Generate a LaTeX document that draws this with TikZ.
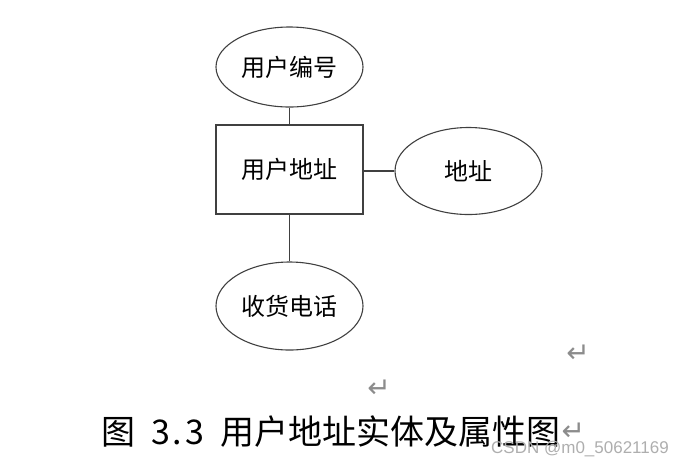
\documentclass[tikz,border=0pt]{standalone}
\usepackage{fontspec}
\setmainfont{Noto Sans CJK SC}
\newfontfamily\cjk{Noto Sans CJK SC}
\newfontfamily\symf{DejaVu Sans}
\newfontfamily\wmf{Liberation Sans}
\usetikzlibrary{shapes.geometric}
\definecolor{lc}{HTML}{404040}
\definecolor{rc}{HTML}{8C8C8C}
\newcommand{\hw}[1]{\makebox[17pt]{#1}}
\begin{document}
\begin{tikzpicture}[x=1pt,y=-1pt,
  attr/.style={ellipse,draw=lc,line width=1.1pt,minimum width=147pt,minimum height=#1,inner sep=0pt,font=\cjk\fontsize{24}{28}\selectfont},
  ent/.style={rectangle,draw=lc,line width=1.1pt,minimum width=147pt,minimum height=89pt,inner sep=0pt,font=\cjk\fontsize{24}{28}\selectfont},
  conn/.style={draw=lc,line width=1.1pt},
  ret/.style={text=rc,inner sep=0pt,font=\symf\fontsize{28}{30}\selectfont}]
\useasboundingbox (0,0) rectangle (684,467);
\node[attr=80pt] (id) at (289.5,67) {用户编号};
\node[ent] (e) at (289.5,169.5) {用户地址};
\node[attr=87pt] (addr) at (468.5,171) {地址};
\node[attr=88pt] (tel) at (289.5,306) {收货电话};
\draw[conn] (id) -- (e);
\draw[conn] (e) -- (tel);
\draw[conn] (e.east |- addr) -- (addr);
\node[ret] (r1) at (578,354) {↵};
\node[ret] (r2) at (379,389) {↵};
\node[anchor=west,inner sep=0pt,font=\cjk\fontsize{34}{36}\selectfont] (cap) at (101,432) {图\hspace{17pt}\hw{3}\hw{.}\hw{3}\hspace{17pt}用户地址实体及属性图};
\node[ret,anchor=west] (r3) at ([xshift=1pt]cap.east) {↵};
\node[anchor=east,inner sep=0pt,text=rc!70,font=\wmf\fontsize{17}{18}\selectfont] (wm) at (669,449) {CSDN @m0\_50621169};
\end{tikzpicture}
\end{document}
